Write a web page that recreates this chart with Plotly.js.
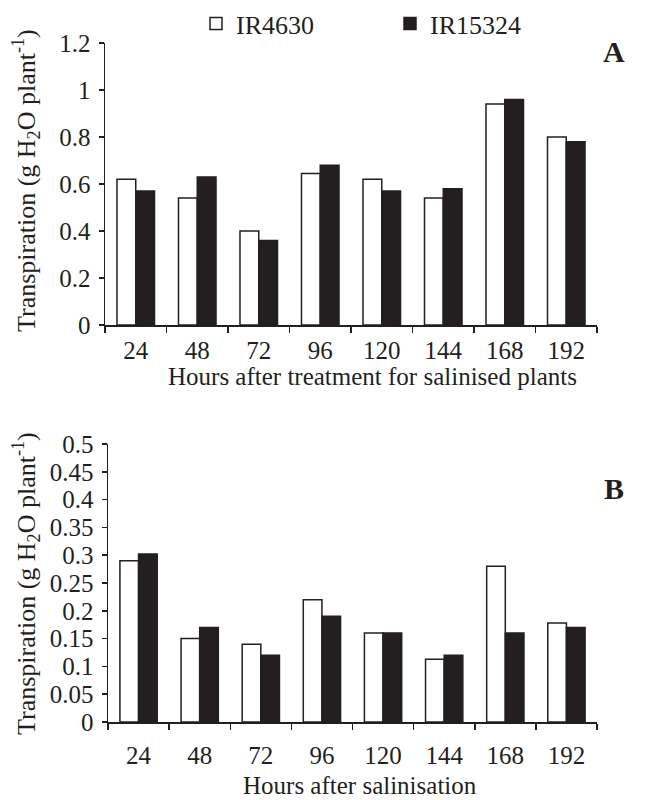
<!DOCTYPE html>
<html>
<head>
<meta charset="utf-8">
<script src="https://cdn.plot.ly/plotly-3.0.1.min.js"></script>
<style>html,body{margin:0;padding:0;background:#fff;width:648px;height:800px;overflow:hidden;}#chart{width:648px;height:800px;}</style>
</head>
<body>
<div id="chart"></div>
<script>
const hours = ['24', '48', '72', '96', '120', '144', '168', '192'];
const seriesNames = ['IR4630', 'IR15324'];
// Panel A: hours after treatment for salinised plants
const panelA_IR4630 = [0.62, 0.54, 0.40, 0.645, 0.62, 0.54, 0.94, 0.80];
const panelA_IR15324 = [0.57, 0.63, 0.36, 0.68, 0.57, 0.58, 0.96, 0.78];
// Panel B: hours after salinisation
const panelB_IR4630 = [0.29, 0.15, 0.14, 0.22, 0.16, 0.113, 0.28, 0.178];
const panelB_IR15324 = [0.302, 0.17, 0.12, 0.19, 0.16, 0.12, 0.16, 0.17];

const ink = '#231f20';
const FONT = '"Liberation Serif", "Times New Roman", serif';

function bar(x, y, name, fill, xa, ya, show, lg) {
  return {
    type: 'bar', x: x, y: y, name: name, xaxis: xa, yaxis: ya,
    marker: {color: fill, line: {color: ink, width: 1.5}},
    showlegend: show, legend: lg, legendgroup: name, hoverinfo: 'x+y'
  };
}

const data = [
  bar(hours, panelA_IR4630, seriesNames[0], '#ffffff', 'x', 'y', true, 'legend'),
  bar(hours, panelA_IR15324, seriesNames[1], ink, 'x', 'y', true, 'legend2'),
  bar(hours, panelB_IR4630, seriesNames[0], '#ffffff', 'x2', 'y2', false, 'legend'),
  bar(hours, panelB_IR15324, seriesNames[1], ink, 'x2', 'y2', false, 'legend2')
];

const axBase = {
  showline: true, linecolor: ink, linewidth: 1.5,
  ticks: 'outside', tickcolor: ink, tickwidth: 1.5,
  showgrid: false, zeroline: false, automargin: false,
  tickfont: {family: FONT, size: 25, color: ink},
  fixedrange: true
};

const legBase = {
  orientation: 'h', y: 1.0, xanchor: 'left', yanchor: 'top',
  font: {family: FONT, size: 26, color: ink}, itemwidth: 30,
  bgcolor: 'rgba(0,0,0,0)', borderwidth: 0
};

const layout = {
  width: 648, height: 800, autosize: false,
  margin: {l: 0, r: 0, t: 0, b: 0, pad: 0},
  paper_bgcolor: '#ffffff', plot_bgcolor: '#ffffff',
  font: {family: FONT, color: ink, size: 25},
  barmode: 'group', bargap: 0.39, bargroupgap: 0,
  showlegend: true,
  legend: Object.assign({}, legBase, {x: 196/648}),
  legend2: Object.assign({}, legBase, {x: 390/648}),
  xaxis: Object.assign({}, axBase, {domain: [105/648, 597/648], anchor: 'y', type: 'category',
           tickson: 'boundaries', ticklen: 6, ticklabelstandoff: 2}),
  yaxis: Object.assign({}, axBase, {domain: [1-325/800, 1-43/800], anchor: 'x', range: [0, 1.2],
           tick0: 0, dtick: 0.2, ticklen: 5, ticklabelstandoff: 3}),
  xaxis2: Object.assign({}, axBase, {domain: [108/648, 597/648], anchor: 'y2', type: 'category',
           tickson: 'boundaries', ticklen: 6, ticklabelstandoff: 10}),
  yaxis2: Object.assign({}, axBase, {domain: [1-722/800, 1-444/800], anchor: 'x2', range: [0, 0.5],
           tick0: 0, dtick: 0.05, ticklen: 5, ticklabelstandoff: 3}),
  annotations: [
    {text: 'Hours after treatment for salinised plants', xref: 'paper', yref: 'paper',
     x: 372/648, y: 1-376/800, xanchor: 'center', yanchor: 'middle', showarrow: false,
     font: {family: FONT, size: 25, color: ink}},
    {text: 'Hours after salinisation', xref: 'paper', yref: 'paper',
     x: 360/648, y: 1-785/800, xanchor: 'center', yanchor: 'middle', showarrow: false,
     font: {family: FONT, size: 25, color: ink}},
    {text: 'Transpiration (g H<sub>2</sub>O plant<sup>-1</sup>)', xref: 'paper', yref: 'paper',
     x: 26/648, y: 1-181/800, xanchor: 'center', yanchor: 'middle', textangle: -90, showarrow: false,
     font: {family: FONT, size: 26, color: ink}},
    {text: 'Transpiration (g H<sub>2</sub>O plant<sup>-1</sup>)', xref: 'paper', yref: 'paper',
     x: 26/648, y: 1-584/800, xanchor: 'center', yanchor: 'middle', textangle: -90, showarrow: false,
     font: {family: FONT, size: 26, color: ink}},
    {text: '<b>A</b>', xref: 'paper', yref: 'paper', x: 614/648, y: 1-52/800,
     xanchor: 'center', yanchor: 'middle', showarrow: false, font: {family: FONT, size: 30, color: ink}},
    {text: '<b>B</b>', xref: 'paper', yref: 'paper', x: 614/648, y: 1-488/800,
     xanchor: 'center', yanchor: 'middle', showarrow: false, font: {family: FONT, size: 30, color: ink}}
  ]
};

Plotly.newPlot('chart', data, layout, {displayModeBar: false, staticPlot: true, responsive: false});
</script>
</body>
</html>
